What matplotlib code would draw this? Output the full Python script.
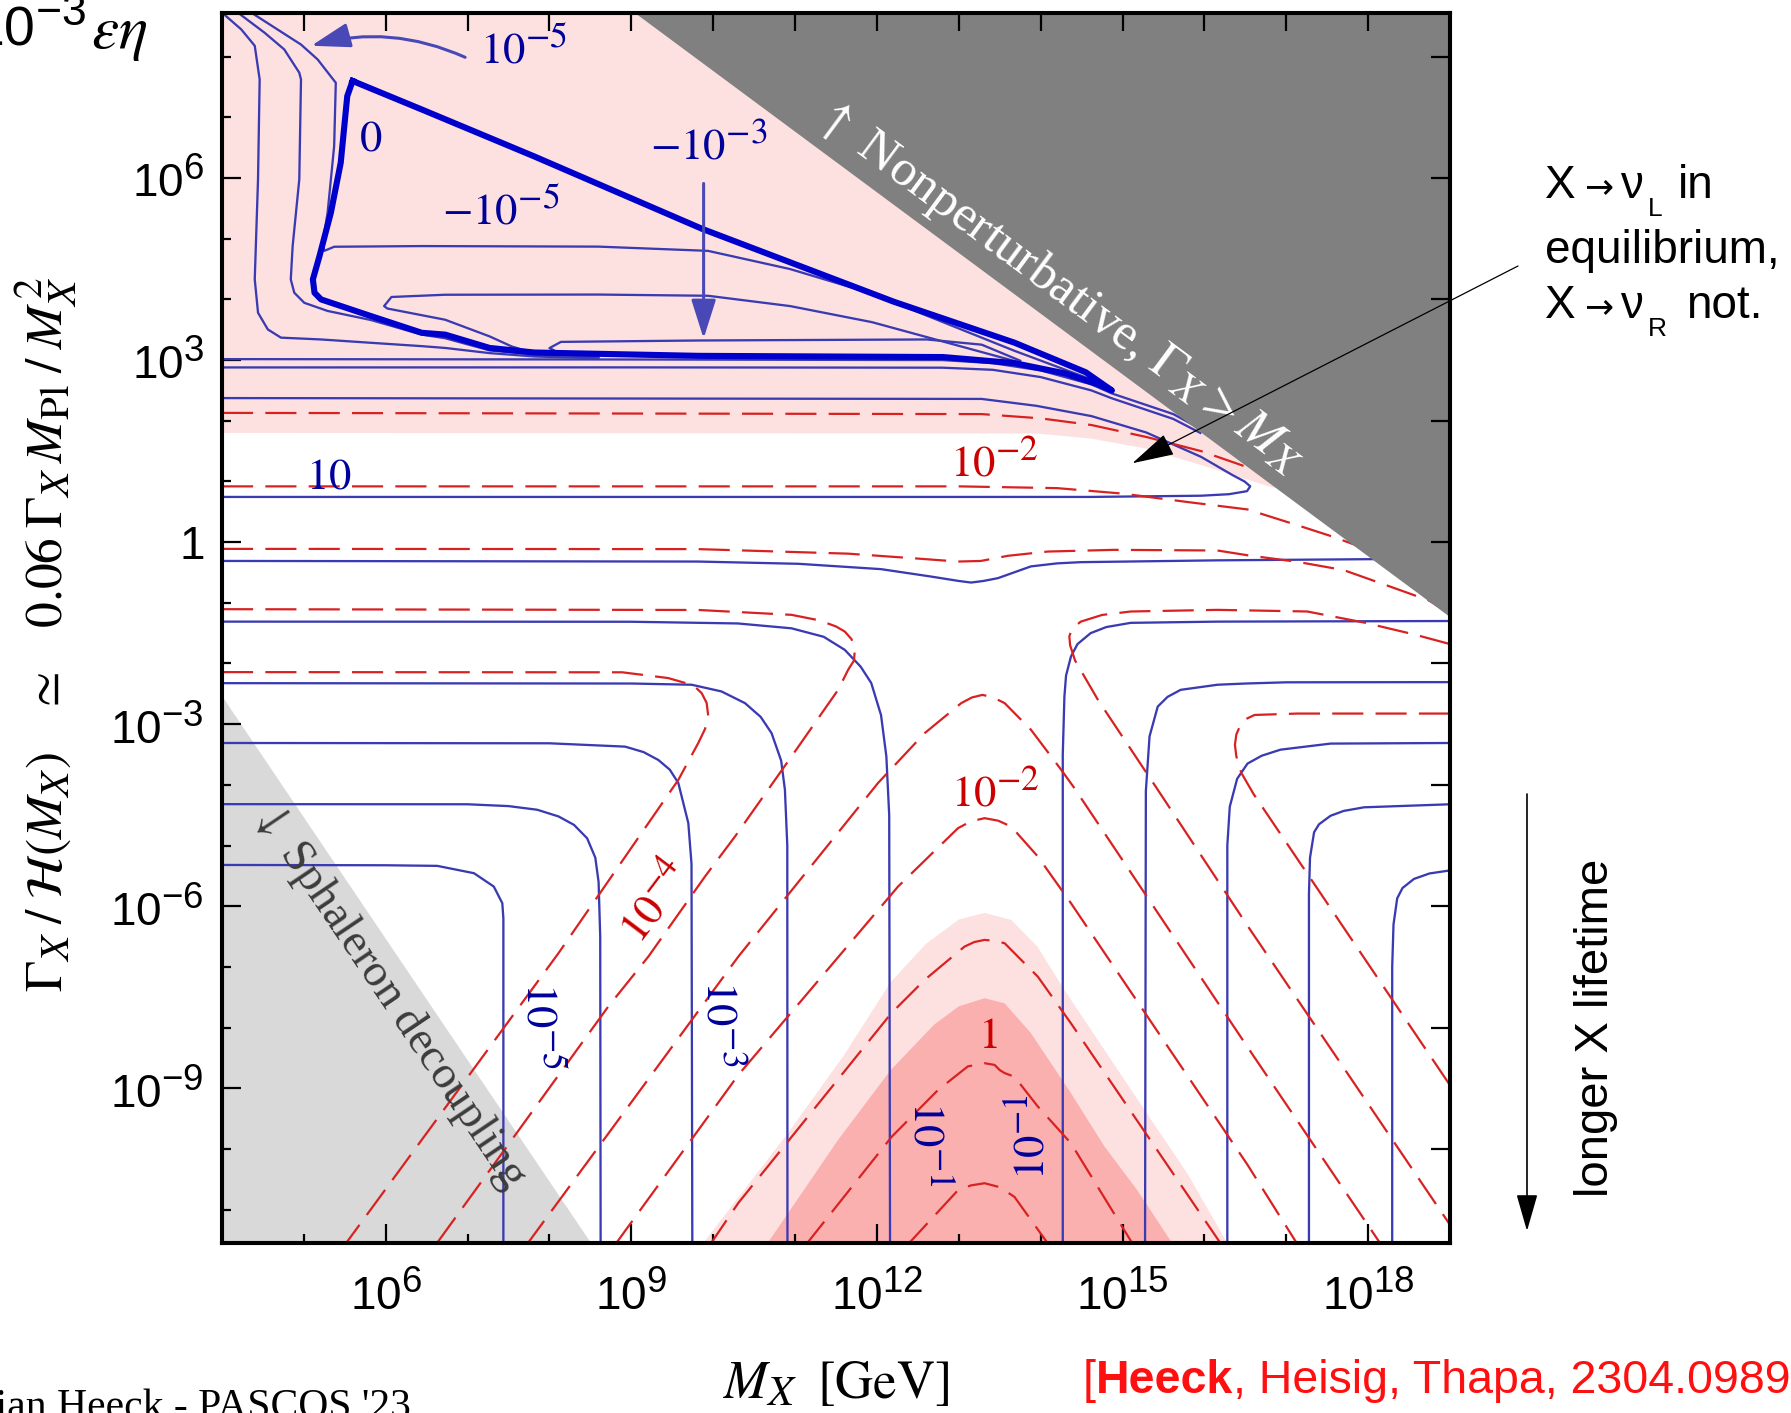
import numpy as np
import matplotlib
matplotlib.use("Agg")
import matplotlib.pyplot as plt
from matplotlib.ticker import FixedLocator, FixedFormatter, NullFormatter, NullLocator
try:
    import matplotlib._mathtext as _mt
    _mt.SHRINK_FACTOR = 0.8
except Exception:
    pass

plt.rcParams['font.family'] = ['Liberation Sans', 'DejaVu Sans']
plt.rcParams['mathtext.fontset'] = 'custom'
plt.rcParams['mathtext.rm'] = 'Liberation Sans'
plt.rcParams['mathtext.it'] = 'Liberation Sans:italic'
plt.rcParams['mathtext.bf'] = 'Liberation Sans:bold'
plt.rcParams['mathtext.sf'] = 'Liberation Sans'

# ------------------------------------------------------------------
# DATA  (all values are log10(M_X/GeV), log10(Gamma_X/H))
# ------------------------------------------------------------------
x_limits = (4.0, 19.0)
y_limits = (-11.55, 8.72)
x_major_ticks = [6, 9, 12, 15, 18]
x_tick_labels = ['$10^{6}$', '$10^{9}$', '$10^{12}$', '$10^{15}$', '$10^{18}$']
x_minor_ticks = list(range(4, 20))
y_major_ticks = [-9, -6, -3, 0, 3, 6]
y_tick_labels = ['$10^{-9}$', '$10^{-6}$', '$10^{-3}$', '$1$', '$10^{3}$', '$10^{6}$']
y_minor_ticks = list(range(-11, 9))
top_ticks = list(range(5, 19))
right_ticks = list(range(-10, 9, 2))

# shaded regions
nonpert_region = [(9.04, 8.72), (19.0, 8.72), (19.0, -1.24)]
sphaleron_region = [(4.0, -2.53), (4.0, -11.55), (8.51, -11.55)]
pink_top = [(4, 8.72), (19, 8.72), (19, 0.9), (16.83, 0.90), (15.96, 1.27), (15.29, 1.54),
            (14.62, 1.706), (13.95, 1.79), (4, 1.80)]
pink_light = [(9.85, -11.6), (10.907, -9.75), (11.6, -8.45), (12.168, -7.25), (12.6, -6.62),
              (13.0, -6.22), (13.315, -6.11), (13.64, -6.225), (13.96, -6.665), (14.29, -7.38),
              (14.78, -8.37), (15.27, -9.36), (15.79, -10.40), (16.3, -11.6)]
pink_dark = [(10.64, -11.6), (11.526, -9.85), (12.168, -8.70), (12.7, -7.95), (13.0, -7.65),
             (13.315, -7.516), (13.56, -7.60), (13.88, -8.09), (14.37, -9.08), (14.78, -9.96),
             (15.18, -10.68), (15.63, -11.6)]

# blue (solid) contours, upper part
blue_zero = [(5.595, 7.60), (5.53, 7.35), (5.45, 6.25), (5.33, 5.43), (5.19, 4.71), (5.11, 4.33),
             (5.13, 4.11), (5.21, 4.00), (5.82, 3.725), (6.44, 3.45), (6.726, 3.42), (7.27, 3.20),
             (7.815, 3.125), (9.818, 3.07), (12.81, 3.05), (13.68, 2.95), (14.3, 2.78), (14.7, 2.60),
             (14.87, 2.50), (14.55, 2.80), (13.68, 3.287), (12.21, 3.96), (9.87, 5.16),
             (7.815, 6.356), (6.44, 7.13), (5.595, 7.60)]
blue_A = [(3.98, 8.75), (4.235, 8.45), (4.40, 8.18), (4.46, 7.625), (4.44, 5.977), (4.40, 4.33),
          (4.44, 3.78), (4.56, 3.505), (4.72, 3.37), (5.21, 3.34), (5.82, 3.285), (6.44, 3.23),
          (6.726, 3.20), (7.27, 3.115), (7.815, 3.06), (8.6, 3.03)]
blue_B = [(4.17, 8.75), (4.52, 8.395), (4.76, 8.12), (4.944, 7.736), (4.965, 7.625), (4.944, 5.977),
          (4.863, 4.879), (4.84, 4.33), (4.883, 4.11), (5.005, 3.944), (5.29, 3.81), (5.82, 3.66),
          (6.44, 3.42), (6.726, 3.36), (7.27, 3.16), (7.815, 3.09), (8.6, 3.06)]
blue_C = [(4.33, 8.75), (4.965, 8.20), (5.168, 7.955), (5.39, 7.57), (5.37, 6.527), (5.29, 5.43),
          (5.23, 4.934), (5.25, 4.80), (5.37, 4.868), (6.44, 4.879), (8.6, 4.87), (9.937, 4.80),
          (10.94, 4.50), (11.94, 4.095), (13.68, 3.153), (14.75, 2.615)]
blue_loop4 = [(7.8, 3.12), (7.54, 3.224), (7.27, 3.39), (6.726, 3.665), (6.02, 3.85), (5.98, 3.89),
              (6.07, 4.04), (6.726, 4.077), (8.6, 4.08), (9.937, 4.06), (10.94, 3.89),
              (11.94, 3.625), (13.68, 2.985), (14.7, 2.58)]
blue_loop3 = [(8.5, 3.07), (8.1, 3.13), (8.0, 3.198), (8.14, 3.30), (9.818, 3.323), (12.61, 3.34),
              (13.28, 3.254), (13.75, 2.99)]
blue_band1 = [(4, 3.016), (9.0, 3.01), (12.8, 3.0), (13.415, 2.95), (14.0, 2.83), (14.62, 2.60),
              (14.87, 2.45), (15.29, 2.26), (15.62, 2.11), (15.95, 1.87)]
blue_band2 = [(4, 2.879), (9.0, 2.88), (12.8, 2.875), (13.415, 2.84), (14.0, 2.72), (14.62, 2.50),
              (14.87, 2.37), (15.29, 2.18), (15.62, 2.03), (15.95, 1.80)]
blue_ten = [(4, 2.374), (13.28, 2.36), (13.95, 2.246), (14.62, 2.077), (15.29, 1.807), (15.96, 1.405),
            (16.35, 1.10), (16.49, 1.0), (16.56, 0.92), (16.52, 0.84), (16.3, 0.79), (15.96, 0.765),
            (14.62, 0.745), (4, 0.745)]
blue_dip = [(4, -0.31), (9.818, -0.32), (11.04, -0.357), (12.05, -0.445), (12.66, -0.567),
            (13.0, -0.64), (13.15, -0.666), (13.3, -0.64), (13.477, -0.594), (13.88, -0.40),
            (14.2, -0.35), (14.49, -0.33), (16.16, -0.30), (18.1, -0.28)]

# blue L-shaped contours, lower left and lower right
blue_L1 = [(4, -1.31), (9.0, -1.312), (10.3, -1.34), (10.956, -1.42), (11.35, -1.56), (11.607, -1.775),
           (11.8, -2.05), (11.93, -2.32), (12.05, -2.85), (12.115, -3.53), (12.15, -4.5), (12.16, -11.6)]
blue_L2 = [(4, -2.324), (9.0, -2.33), (9.737, -2.35), (10.1, -2.46), (10.388, -2.653), (10.58, -2.88),
           (10.713, -3.148), (10.83, -3.6), (10.876, -4.08), (10.905, -5.0), (10.907, -11.6)]
blue_L3 = [(4, -3.31), (8.0, -3.315), (8.924, -3.37), (9.15, -3.46), (9.33, -3.59), (9.47, -3.75),
           (9.574, -3.97), (9.696, -4.63), (9.735, -5.3), (9.745, -11.6)]
blue_L4 = [(4, -4.318), (7.0, -4.32), (7.5, -4.35), (7.85, -4.41), (8.11, -4.52), (8.3, -4.66),
           (8.46, -4.88), (8.56, -5.2), (8.6, -5.6), (8.62, -6.5), (8.625, -11.6)]
blue_L5 = [(4, -5.32), (6.0, -5.325), (6.63, -5.335), (7.078, -5.456), (7.32, -5.676), (7.424, -5.95),
           (7.437, -6.2), (7.437, -11.6)]
blue_R1 = [(19, -1.30), (16.16, -1.31), (15.10, -1.33), (14.8, -1.40), (14.61, -1.50), (14.45, -1.68),
           (14.37, -1.885), (14.31, -2.2), (14.29, -2.545), (14.27, -3.5), (14.27, -11.6)]
blue_R2 = [(19, -2.307), (17.0, -2.31), (16.5, -2.33), (16.16, -2.35), (15.71, -2.434), (15.55, -2.55),
           (15.43, -2.71), (15.33, -3.2), (15.285, -4.1), (15.275, -11.6)]
blue_R3 = [(19, -3.31), (17.54, -3.32), (16.93, -3.42), (16.7, -3.52), (16.526, -3.65), (16.4, -3.9),
           (16.31, -4.36), (16.28, -5.0), (16.28, -11.6)]
blue_R4 = [(19, -4.32), (17.95, -4.37), (17.7, -4.43), (17.54, -4.51), (17.4, -4.65), (17.34, -4.78),
           (17.29, -5.2), (17.277, -5.8), (17.277, -11.6)]
blue_R5 = [(19, -5.41), (18.75, -5.46), (18.56, -5.55), (18.42, -5.7), (18.355, -5.87), (18.31, -6.3),
           (18.294, -7.0), (18.294, -11.6)]

# red (dashed) contours
red_R1 = [(4, 2.13), (13.28, 2.11), (14.0, 2.04), (14.62, 1.93), (15.3, 1.73), (15.96, 1.50), (16.6, 1.20)]
red_R2 = [(4, 0.919), (13.0, 0.919), (14.2, 0.89), (15.0, 0.80), (15.8, 0.66), (16.526, 0.539),
          (17.11, 0.29), (17.58, 0.085), (17.85, -0.05)]
red_R3 = [(4, -0.111), (9.818, -0.115), (11.65, -0.19), (12.46, -0.267), (12.99, -0.32), (13.27, -0.31),
          (13.60, -0.225), (14.087, -0.155), (14.9, -0.127), (16.16, -0.138), (16.526, -0.216),
          (17.136, -0.325), (17.70, -0.46), (18.27, -0.733), (18.74, -0.96), (18.85, -1.05)]
red_H1 = [(4, -1.105), (9.82, -1.118), (10.956, -1.198), (11.3, -1.29), (11.5, -1.39), (11.607, -1.473),
          (11.69, -1.60), (11.73, -1.775), (11.72, -1.95), (11.65, -2.10), (11.526, -2.434),
          (10.956, -3.533), (10.266, -4.852), (9.90, -5.51), (9.208, -6.83), (8.72, -7.65), (6.60, -11.6)]
red_H2 = [(4, -2.142), (8.889, -2.145), (9.45, -2.24), (9.76, -2.36), (9.86, -2.49), (9.92, -2.65),
          (9.94, -2.87), (9.90, -3.08), (9.818, -3.31), (9.574, -3.918), (8.11, -6.774), (5.49, -11.6)]
red_RH1 = [(19.0, -1.68), (18.56, -1.52), (17.95, -1.325), (17.257, -1.143), (16.16, -1.116),
           (15.10, -1.143), (14.75, -1.20), (14.49, -1.31), (14.38, -1.43), (14.35, -1.556),
           (14.36, -1.70), (14.42, -1.95), (14.70, -2.60), (15.43, -4.08), (16.526, -6.32), (19.0, -11.25)]
red_RH2 = [(19.0, -2.825), (17.136, -2.825), (16.612, -2.848), (16.50, -2.92), (16.44, -3.014),
           (16.39, -3.17), (16.373, -3.34), (16.39, -3.53), (16.45, -3.80), (16.6, -4.15), (19.0, -8.95)]
red_V1 = [(7.71, -11.6), (10.307, -6.83), (12.013, -3.97), (12.583, -3.148), (13.03, -2.653),
          (13.16, -2.56), (13.29, -2.517), (13.42, -2.56), (13.56, -2.653), (13.88, -3.09),
          (14.25, -3.75), (14.41, -4.05), (16.526, -8.32), (18.17, -11.6)]
red_V2 = [(8.79, -11.6), (10.307, -8.78), (12.257, -5.677), (12.99, -4.714), (13.15, -4.60),
          (13.315, -4.549), (13.48, -4.59), (13.64, -4.687), (13.965, -5.18), (14.37, -5.95),
          (16.526, -10.26), (17.15, -11.6)]
red_V3 = [(9.95, -11.6), (10.307, -10.89), (12.176, -7.763), (12.583, -7.214), (13.07, -6.665),
          (13.19, -6.59), (13.315, -6.555), (13.44, -6.57), (13.56, -6.61), (13.965, -7.16),
          (14.37, -7.93), (16.22, -11.6)]
red_V4 = [(11.12, -11.6), (12.18, -9.80), (12.745, -9.03), (13.11, -8.64), (13.315, -8.587),
          (13.437, -8.615), (13.50, -8.70), (13.56, -8.75), (13.68, -8.81), (13.965, -9.30),
          (14.37, -9.906), (15.14, -11.6)]
red_V5 = [(12.36, -11.6), (12.99, -10.68), (13.15, -10.60), (13.315, -10.565), (13.5, -10.63),
          (13.68, -10.79), (14.11, -11.6)]

# ------------------------------------------------------------------
W, H = 1791, 1413
fig = plt.figure(figsize=(W / 100, H / 100), dpi=100)
AX_L, AX_R, AX_T, AX_B = 222, 1450, 13, 1243
rect = [AX_L / W, 1 - AX_B / H, (AX_R - AX_L) / W, (AX_B - AX_T) / H]
ax = fig.add_axes(rect)


def fx(X):
    return X / W


def fy(Y):
    return 1 - Y / H


def xy(pts):
    a = np.asarray(pts, dtype=float)
    return 10.0 ** a[:, 0], 10.0 ** a[:, 1]


def P(lx, ly):
    return (10.0 ** lx, 10.0 ** ly)


PINK = '#fde1e1'
PINK_D = '#fbb0b0'
BLUE = '#3a3ab2'
BLUE_THICK = '#0000cc'
BLUE_TXT = '#00009a'
RED = '#d82222'
RED_TXT = '#cc0000'
ARROW_BLUE = '#4848b6'

ax.set_xscale('log')
ax.set_yscale('log')
ax.set_xlim(10 ** x_limits[0], 10 ** x_limits[1])
ax.set_ylim(10 ** y_limits[0], 10 ** y_limits[1])

ax.fill(*xy(pink_top), color=PINK, lw=0, zorder=0.5)
ax.fill(*xy(pink_light), color=PINK, lw=0, zorder=0.5)
ax.fill(*xy(pink_dark), color=PINK_D, lw=0, zorder=0.6)
ax.fill(*xy(sphaleron_region), color='#d9d9d9', lw=0, zorder=0.7)
ax.fill(*xy(nonpert_region), color='#808080', lw=0, zorder=3)

for c in [blue_A, blue_B, blue_C, blue_loop4, blue_loop3, blue_band1, blue_band2, blue_ten, blue_dip,
          blue_L1, blue_L2, blue_L3, blue_L4, blue_L5, blue_R1, blue_R2, blue_R3, blue_R4, blue_R5]:
    ax.plot(*xy(c), color=BLUE, lw=1.65, zorder=2, solid_joinstyle='round')
ax.plot(*xy(blue_zero), color=BLUE_THICK, lw=4.4, zorder=2.2, solid_joinstyle='round')

for c in [red_R1, red_R2, red_R3, red_H1, red_H2, red_RH1, red_RH2, red_V1, red_V2, red_V3, red_V4, red_V5]:
    ax.plot(*xy(c), color=RED, lw=1.6, dashes=(14, 5.5), zorder=2.1)

# contour labels
labels = [
    (r'$10^{-5}$', 7.69, 8.09, 0, BLUE_TXT),
    (r'$0$', 5.81, 6.64, 0, BLUE_TXT),
    (r'$-10^{-5}$', 7.41, 5.44, 0, BLUE_TXT),
    (r'$-10^{-3}$', 9.94, 6.53, 0, BLUE_TXT),
    (r'$10$', 5.30, 1.07, 0, BLUE_TXT),
    (r'$10^{-2}$', 13.43, 1.31, 0, RED_TXT),
    (r'$10^{-2}$', 13.44, -4.13, 0, RED_TXT),
    (r'$1$', 13.355, -8.15, 0, RED_TXT),
    (r'$10^{-4}$', 9.29, -5.92, 53, RED_TXT),
    (r'$10^{-5}$', 7.88, -7.97, -90, BLUE_TXT),
    (r'$10^{-3}$', 10.09, -7.94, -90, BLUE_TXT),
    (r'$10^{-1}$', 12.62, -9.91, -90, BLUE_TXT),
    (r'$10^{-1}$', 13.87, -9.80, 90, BLUE_TXT),
]
for s, lx, ly, rot, col in labels:
    ax.text(*P(lx, ly), s, color=col, fontsize=32, ha='center', va='center', rotation=rot,
            rotation_mode='anchor', math_fontfamily='stix', zorder=5)

ax.text(*P(14.22, 4.2), r'$\uparrow$ Nonperturbative, $\mathit{\Gamma}_X > M_X$', color='white',
        fontsize=37, rotation=-36.5, rotation_mode='anchor', ha='center', va='center',
        family='Liberation Serif', math_fontfamily='stix', zorder=6)
ax.text(*P(6.04, -7.46), r'$\downarrow$ Sphaleron decoupling', color='#3c3c3c',
        fontsize=33.5, rotation=-56, rotation_mode='anchor', ha='center', va='center',
        family='Liberation Serif', math_fontfamily='stix', zorder=6)

# arrows
ax.annotate('', xy=P(5.09, 8.18), xytext=P(6.97, 7.99),
            arrowprops=dict(arrowstyle='-|>,head_length=1.2,head_width=0.38', color=ARROW_BLUE, lw=2.2,
                            connectionstyle='arc3,rad=0.18', mutation_scale=20, shrinkA=0, shrinkB=0),
            zorder=5)
ax.annotate('', xy=P(9.883, 3.355), xytext=P(9.883, 5.91),
            arrowprops=dict(arrowstyle='-|>,head_length=1.2,head_width=0.38', color=ARROW_BLUE, lw=2.2,
                            mutation_scale=20, shrinkA=0, shrinkB=0), zorder=5)
ax.annotate('', xy=P(15.12, 1.30), xytext=(fx(1518), fy(266)), textcoords='figure fraction',
            arrowprops=dict(arrowstyle='-|>,head_length=1.35,head_width=0.36', color='black', lw=0.9,
                            mutation_scale=20, shrinkA=0, shrinkB=0), annotation_clip=False, zorder=7)
ax.annotate('', xy=(fx(1527), fy(1231)), xycoords='figure fraction',
            xytext=(fx(1527), fy(794)), textcoords='figure fraction',
            arrowprops=dict(arrowstyle='-|>,head_length=1.15,head_width=0.33', color='black', lw=1.2,
                            mutation_scale=20, shrinkA=0, shrinkB=0), annotation_clip=False)

# ticks
ax.xaxis.set_major_locator(FixedLocator([10.0 ** v for v in x_major_ticks]))
ax.xaxis.set_major_formatter(FixedFormatter(x_tick_labels))
ax.xaxis.set_minor_locator(FixedLocator([10.0 ** v for v in x_minor_ticks]))
ax.xaxis.set_minor_formatter(NullFormatter())
ax.yaxis.set_major_locator(FixedLocator([10.0 ** v for v in y_major_ticks]))
ax.yaxis.set_major_formatter(FixedFormatter(y_tick_labels))
ax.yaxis.set_minor_locator(FixedLocator([10.0 ** v for v in y_minor_ticks]))
ax.yaxis.set_minor_formatter(NullFormatter())
ax.tick_params(which='major', direction='in', length=13.5, width=1.6, labelsize=33,
               top=False, right=False)
ax.tick_params(axis='x', which='major', pad=21)
ax.tick_params(axis='y', which='major', pad=13)
ax.tick_params(which='minor', direction='in', length=6.5, width=1.6, top=False, right=False)
for sp in ax.spines.values():
    sp.set_linewidth(2.9)
    sp.set_zorder(10)

axT = ax.twiny()
axT.set_xscale('log')
axT.set_xlim(ax.get_xlim())
axT.xaxis.set_major_locator(FixedLocator([10.0 ** v for v in top_ticks]))
axT.xaxis.set_major_formatter(NullFormatter())
axT.xaxis.set_minor_locator(NullLocator())
axT.tick_params(axis='x', which='major', direction='in', length=13, width=1.6)
axR = ax.twinx()
axR.set_yscale('log')
axR.set_ylim(ax.get_ylim())
axR.yaxis.set_major_locator(FixedLocator([10.0 ** v for v in right_ticks]))
axR.yaxis.set_major_formatter(NullFormatter())
axR.yaxis.set_minor_locator(NullLocator())
axR.tick_params(axis='y', which='major', direction='in', length=13.5, width=1.6)
for a in (axT, axR):
    for sp in a.spines.values():
        sp.set_linewidth(2.9)

# axis titles
fig.text(fx(46), fy(634),
         r'$\mathit{\Gamma}_X\;/\;\mathcal{H}(M_X)\quad\simeq\quad0.06\;\mathit{\Gamma}_X\,M_{\mathrm{Pl}}\;/\;M_X^2$',
         rotation=90, fontsize=37, ha='center', va='center', math_fontfamily='stix')
fig.text(fx(836), fy(1384), r'$M_X\;\;[\mathrm{GeV}]$', fontsize=38, ha='center', va='center',
         math_fontfamily='stix')

# top-left factor
fig.text(fx(86), fy(46), r'$10^{-3}$', fontsize=40, ha='right', va='baseline')
fig.text(fx(91), fy(48), r'$\varepsilon\eta$', fontsize=44, ha='left', va='baseline',
         math_fontfamily='stix')

# right annotation (pieces placed like the original typesetting)
for base, sub, tail, tail_x in [(198, 'L', 'in', 1678), (318, 'R', 'not.', 1686)]:
    fig.text(fx(1545), fy(base), 'X', fontsize=33, va='baseline')
    fig.text(fx(1584), fy(base - 1), '\u2192', fontsize=25, va='baseline', family='DejaVu Sans')
    fig.text(fx(1620), fy(base), '\u03bd', fontsize=33, va='baseline')
    fig.text(fx(1648), fy(base + 18), sub, fontsize=19, va='baseline')
    fig.text(fx(tail_x), fy(base), tail, fontsize=33, va='baseline')
fig.text(fx(1545), fy(263), 'equilibrium,', fontsize=33, va='baseline')
fig.text(fx(1596), fy(1028), 'longer X lifetime', rotation=90, fontsize=34, ha='center', va='center')

# footer
fig.text(fx(411), fy(1418), "Julian Heeck - PASCOS '23", fontsize=30, ha='right', va='baseline',
         family='Liberation Serif')
renderer = fig.canvas.get_renderer()
x0 = 1083
for s, wgt in [('[', 'normal'), ('Heeck', 'bold'), (', Heisig, Thapa, 2304.09895]', 'normal')]:
    t = fig.text(fx(x0), fy(1393), s, color='#ff1010', fontsize=33.5, fontweight=wgt, va='baseline', ha='left')
    bb = t.get_window_extent(renderer=renderer)
    x0 = bb.x1

fig.savefig('out.png', dpi=100)
